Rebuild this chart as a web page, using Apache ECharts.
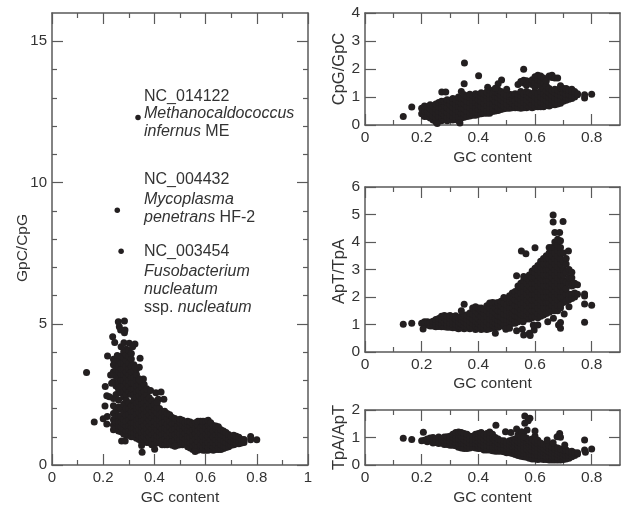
<!DOCTYPE html>
<html><head><meta charset="utf-8">
<style>html,body{margin:0;padding:0;background:#fff}#c{width:622px;height:507px}</style>
<script src="https://cdn.jsdelivr.net/npm/echarts@6/dist/echarts.min.js"></script>
</head><body><div id="c"></div>
<script>
// Each column: [GC content, y values...].
const gpcCpgColumns = [
[.24,1.25,1.42,1.6,1.82,2.1,2.35,2.95,3.3,3.55],
[.25,1.32,1.5,1.7,1.95,2.5,2.8,3.15,3.4,3.62],
[.26,1.2,1.38,1.55,1.75,2.05,2.3,2.68,2.9,3.1,3.3,3.5,3.72],
[.27,1.18,1.35,1.52,1.72,1.98,2.55,2.8,3.0,3.2,3.4,3.6,3.85],
[.28,1.1,1.28,1.45,1.62,1.85,2.15,2.4,2.6,2.8,3.0,3.2,3.4,3.6,3.8,4.0],
[.29,1.05,1.2,1.38,1.55,1.75,2.0,2.3,2.5,2.7,2.9,3.1,3.3,3.5,3.7,3.9,4.1],
[.30,1.05,1.22,1.4,1.6,1.8,2.0,2.2,2.6,2.8,3.0,3.2,3.4,3.6,3.85,4.05],
[.31,1.0,1.15,1.32,1.5,1.7,1.9,2.1,2.5,2.7,2.9,3.1,3.3,3.5,3.75,3.95],
[.32,1.0,1.15,1.32,1.5,1.7,1.9,2.1,2.3,2.5,2.7,2.9,3.1,3.35,3.55],
[.33,.95,1.1,1.25,1.42,1.6,1.8,2.0,2.2,2.4,2.6,2.8,3.0,3.2,3.4],
[.34,.9,1.05,1.25,1.45,1.65,1.85,2.05,2.25,2.45,2.65,2.85,3.05],
[.35,.82,.98,1.15,1.35,1.55,1.75,1.95,2.15,2.35,2.55,2.75,2.95],
[.36,.82,1.0,1.2,1.4,1.6,1.8,2.0,2.2,2.4,2.6,2.85],
[.37,.8,.92,1.1,1.3,1.5,1.7,1.9,2.1,2.3,2.5,2.7],
[.38,.8,.98,1.18,1.38,1.58,1.78,1.98,2.18,2.38],
[.39,.72,.88,1.08,1.28,1.48,1.68,1.88,2.08,2.28],
[.40,.75,.95,1.15,1.35,1.55,1.75,1.95,2.15],
[.41,.78,.9,1.05,1.25,1.45,1.65,1.85,2.05],
[.42,.8,.98,1.18,1.38,1.58,1.78,2.0],
[.43,.72,.88,1.08,1.28,1.48,1.68,1.88],
[.44,.72,.92,1.12,1.32,1.52,1.72,1.9],
[.45,.72,.85,1.05,1.25,1.45,1.65,1.82],
[.46,.75,.95,1.15,1.35,1.55,1.78],
[.47,.7,.85,1.05,1.25,1.45,1.68],
[.48,.68,.88,1.08,1.28,1.48,1.65],
[.49,.7,.8,.98,1.18,1.38,1.58],
[.50,.72,.9,1.1,1.3,1.5,1.62],
[.51,.72,.82,1.0,1.2,1.4,1.58],
[.52,.75,.92,1.12,1.32,1.5],
[.53,.65,.82,1.02,1.22,1.42,1.55],
[.54,.6,.78,.98,1.18,1.38,1.52],
[.55,.55,.68,.85,1.05,1.25,1.45],
[.56,.55,.72,.92,1.12,1.3,1.5],
[.57,.52,.65,.82,1.02,1.22,1.42,1.55],
[.58,.55,.72,.92,1.12,1.32,1.55],
[.59,.52,.62,.82,1.02,1.22,1.42,1.55],
[.60,.52,.7,.9,1.1,1.3,1.55],
[.61,.52,.62,.8,1.0,1.2,1.42,1.58],
[.62,.55,.72,.9,1.1,1.3,1.5],
[.63,.52,.64,.8,1.0,1.2,1.4],
[.64,.55,.72,.9,1.08,1.28,1.38],
[.65,.55,.62,.8,1.0,1.18,1.35],
[.66,.55,.72,.9,1.08,1.25],
[.67,.58,.68,.85,1.05,1.2],
[.68,.62,.8,.98,1.15],
[.69,.65,.75,.92,1.08],
[.70,.7,.85,1.02],
[.71,.72,.82,.95,1.05],
[.72,.75,.9,1.02],
[.73,.75,.85,.98],
[.74,.78,.9],
[.75,.8,.9]
];
const gpcCpgOutliers = [[.135,3.27],[.165,1.52],[.2,1.64],[.216,1.72],[.214,1.45],[.207,2.09],[.214,2.45],[.224,2.42],[.208,2.78],[.233,2.89],[.229,3.19],[.217,3.86],[.237,4.54],[.245,4.34],[.24,3.74],[.255,3.88],[.259,5.07],[.283,5.1],[.263,4.89],[.268,4.78],[.283,4.68],[.285,4.78],[.27,4.19],[.281,4.33],[.302,4.31],[.324,4.28],[.315,4.19],[.344,3.78],[.341,3.46],[.324,3.46],[.357,3.04],[.341,3.01],[.385,2.64],[.406,2.56],[.426,2.58],[.437,2.33],[.415,2.33],[.411,2.21],[.272,.85],[.286,.85],[.352,.45],[.401,.56],[.35,.69],[.776,1.01],[.776,.89],[.8,.89],[.48,.66],[.559,.48]];
const gpcCpgNamedGenomes = [[.336,12.3],[.255,9.02],[.27,7.57]];

const cpgGpcColumns = [
[.20,.4,.6],[.21,.3,.5,.68],[.22,.3,.48,.65],[.23,.25,.4,.58,.72],[.24,.18,.32,.5,.68],[.25,.12,.25,.4,.58,.75],
[.26,.15,.3,.48,.65,.8],[.27,.15,.28,.44,.6,.78,.85],[.28,.2,.35,.52,.7,.85],[.29,.15,.28,.45,.62,.8,.9],
[.30,.2,.36,.54,.72,.88],[.31,.18,.3,.46,.64,.82,.95],[.32,.2,.38,.56,.74,.92],[.33,.15,.3,.48,.66,.84,1.0],
[.34,.25,.42,.6,.78,.95,1.2],[.35,.28,.4,.58,.76,.94,1.08],[.36,.3,.48,.66,.84,1.02],[.37,.32,.44,.62,.8,.98,1.1],
[.38,.35,.52,.7,.88,1.05],[.39,.35,.45,.62,.8,.98,1.12],[.40,.38,.55,.73,.9,1.08],[.41,.4,.5,.66,.84,1.02,1.15],
[.42,.42,.6,.78,.95,1.12],[.43,.42,.52,.7,.88,1.05,1.18],[.44,.42,.6,.78,.95,1.1,1.25],[.45,.48,.6,.78,.96,1.12],
[.46,.5,.68,.85,1.02,1.18],[.47,.52,.62,.8,.98,1.15,1.25],[.48,.55,.72,.9,1.05,1.2],[.49,.58,.68,.84,1.0,1.12],
[.50,.6,.75,.92,1.05],[.51,.6,.7,.86,1.02,1.1],[.52,.62,.78,.95,1.08],[.53,.62,.7,.88,1.05,1.12],
[.54,.62,.78,.95,1.1,1.45],[.55,.6,.72,.88,1.05,1.2,1.55],[.56,.62,.8,.98,1.12,1.5,1.6],[.57,.62,.72,.9,1.08,1.2,1.42,1.58],
[.58,.65,.82,1.0,1.15,1.55],[.59,.62,.74,.92,1.08,1.45,1.62],[.60,.65,.82,1.0,1.18,1.35,1.52,1.72],[.61,.65,.75,.92,1.1,1.45,1.62,1.78],
[.62,.65,.82,1.0,1.2,1.4,1.6,1.75],[.63,.65,.78,.92,1.12,1.3,1.5,1.68],[.64,.7,.88,1.05,1.22,1.4,1.58],[.65,.68,.8,.98,1.15,1.3,1.75],
[.66,.72,.9,1.05,1.22,1.7,1.78],[.67,.72,.82,.98,1.15,1.28,1.68],[.68,.75,.92,1.1,1.25,1.68],[.69,.78,.9,1.05,1.2,1.32,1.4],
[.70,.85,1.0,1.15,1.3],[.71,.88,.98,1.1,1.25,1.3],[.72,.92,1.08,1.25],[.73,.95,1.05,1.2,1.28],[.74,1.0,1.15,1.2],[.75,1.08,1.12]
];
const cpgGpcOutliers = [[.135,.3],[.165,.64],[.351,2.21],[.35,1.47],[.401,1.76],[.433,1.35],[.56,1.99],[.271,1.18],[.285,1.18],[.482,1.61],[.47,1.47],[.5,1.28],[.335,.07],[.255,.05],[.775,1.08],[.775,.96],[.8,1.1],[.46,1.31]];

const aptTpaColumns = [
[.20,1.05],[.21,1.0,1.1],[.22,.98,1.1],[.23,.95,1.08],[.24,.95,1.12],[.25,.92,1.05,1.18],[.26,.93,1.1,1.22],[.27,.92,1.02,1.18,1.3],
[.28,.92,1.08,1.25,1.33],[.29,.9,1.0,1.15,1.3],[.30,.9,1.05,1.22,1.33],[.31,.88,1.0,1.12,1.28],[.32,.88,1.02,1.2,1.32],[.33,.85,.95,1.1,1.25],
[.34,.88,1.02,1.18,1.3],[.35,.85,.95,1.1,1.25,1.35],[.36,.88,1.02,1.18,1.35],[.37,.85,.95,1.1,1.28,1.42],[.38,.88,1.05,1.2,1.38,1.6],
[.39,.82,.95,1.12,1.3,1.5,1.65],[.40,.88,1.05,1.2,1.38,1.6],[.41,.82,.95,1.12,1.3,1.5,1.6],[.42,.85,1.02,1.2,1.4,1.55],[.43,.82,.92,1.1,1.3,1.5,1.68],
[.44,.85,1.0,1.2,1.4,1.6,1.78],[.45,.88,.98,1.12,1.3,1.5,1.7,1.8],[.46,.9,1.05,1.22,1.42,1.6,1.78],[.47,.9,1.0,1.15,1.32,1.5,1.7,1.8],
[.48,.95,1.1,1.28,1.48,1.68,1.85],[.49,.95,1.05,1.2,1.38,1.58,1.78,1.98],[.50,1.0,1.18,1.35,1.52,1.72,1.95],[.51,1.0,1.12,1.28,1.45,1.62,1.82,2.05],
[.52,1.05,1.22,1.4,1.6,1.8,2.0,2.15],[.53,1.05,1.15,1.32,1.5,1.7,1.9,2.1,2.2],[.54,1.1,1.28,1.46,1.65,1.85,2.05,2.25,2.4],[.55,1.2,1.38,1.55,1.75,1.95,2.15,2.35,2.5],
[.56,1.25,1.42,1.6,1.8,2.0,2.2,2.4,2.6,2.75],[.57,1.2,1.32,1.5,1.7,1.9,2.1,2.3,2.5,2.7],[.58,1.2,1.4,1.6,1.8,2.0,2.2,2.4,2.6,2.8],[.59,1.25,1.3,1.5,1.7,1.9,2.1,2.3,2.5,2.7,2.95],
[.60,1.3,1.5,1.7,1.9,2.1,2.3,2.5,2.7,2.9,3.05],[.61,1.25,1.4,1.6,1.8,2.0,2.2,2.4,2.6,2.8,3.0,3.15],
[.62,1.3,1.5,1.7,1.9,2.1,2.3,2.5,2.7,2.9,3.1,3.3],[.63,1.35,1.4,1.6,1.8,2.0,2.2,2.4,2.6,2.8,3.0,3.2,3.4],
[.64,1.4,1.6,1.8,2.0,2.2,2.4,2.6,2.8,3.0,3.2,3.4,3.5],[.65,1.45,1.6,1.8,2.0,2.2,2.4,2.6,2.8,3.0,3.2,3.4,3.6,3.8],
[.66,1.5,1.7,1.9,2.1,2.3,2.5,2.7,2.9,3.1,3.3,3.5,3.7,3.8],[.67,1.5,1.6,1.8,2.0,2.2,2.4,2.6,2.8,3.0,3.2,3.4,3.6,3.8,4.0],
[.68,1.5,1.7,1.9,2.1,2.3,2.5,2.7,2.9,3.1,3.3,3.5,3.7,3.9,4.1],[.69,1.6,1.8,2.0,2.2,2.4,2.6,2.8,3.0,3.2,3.4,3.6,3.8,4.05],
[.70,1.8,2.0,2.2,2.4,2.6,2.8,3.0,3.3,3.6],[.71,1.85,2.1,2.3,2.55,2.9,3.2,3.4],[.72,1.9,2.1,2.5,2.7,3.0],[.73,1.95,2.1,2.4,2.7,2.9],[.74,2.0,2.15,2.45,2.5],[.75,2.1,2.45]
];
const aptTpaOutliers = [[.135,1.01],[.165,1.05],[.205,.84],[.35,1.74],[.34,1.5],[.664,4.98],[.664,4.73],[.699,4.75],[.67,4.35],[.687,4.35],[.552,3.67],[.568,3.57],[.60,3.79],[.718,3.67],[.535,2.77],[.775,1.75],[.775,2.11],[.775,2.04],[.8,1.7],[.775,1.08],[.703,1.38],[.69,1.7],[.72,1.65],[.46,.68],[.497,.83],[.51,.86],[.535,.77],[.555,.83],[.558,1.1],[.56,.62],[.58,.68],[.583,.6],[.597,.8],[.594,.98],[.61,.98],[.645,1.1],[.665,1.23],[.683,.98],[.69,1.07],[.69,.86]];

const tpaAptColumns = [
[.20,.88],[.21,.9],[.22,.85,.95],[.23,.88,.98],[.24,.8,.92,1.0],[.25,.82,.95],[.26,.78,.9,1.02],[.27,.8,.95],[.28,.75,.88,1.02],[.29,.75,.9,1.03],[.30,.72,.85,.98,1.05],
[.31,.72,.88,1.02,1.12],[.32,.7,.82,.95,1.08,1.18],[.33,.65,.8,.95,1.1,1.2],[.34,.62,.78,.9,1.05,1.18],[.35,.6,.78,.92,1.05,1.15],[.36,.6,.72,.85,1.0,1.12],[.37,.62,.78,.92,1.05],[.38,.65,.78,.9,1.05],[.39,.62,.78,.92,1.05,1.12],
[.40,.6,.72,.85,1.0,1.15],[.41,.6,.75,.9,1.05,1.18],[.42,.55,.68,.82,.95,1.1],[.43,.55,.72,.88,1.02,1.15],[.44,.55,.68,.82,.95,1.08,1.2],[.45,.52,.68,.82,.98,1.12],[.46,.5,.62,.75,.88,1.0],[.47,.5,.65,.8,.95],
[.48,.5,.62,.75,.88],[.49,.48,.62,.75,.88],[.50,.45,.58,.7,.82],[.51,.45,.6,.72,.88],[.52,.42,.55,.68,.8,.92],[.53,.38,.52,.68,.82,.95],[.54,.35,.48,.6,.72,.85,1.0,1.1],[.55,.32,.48,.62,.78,.9,1.05],
[.56,.3,.42,.55,.68,.82,.95,1.18],[.57,.28,.42,.58,.72,.85,.98],[.58,.25,.38,.5,.62,.75,.9],[.59,.22,.38,.52,.68,.82,.95],[.60,.22,.35,.48,.6,.72,.85,1.05],[.61,.2,.35,.5,.65,.78,.9],
[.62,.22,.32,.45,.58,.7,.8],[.63,.2,.35,.48,.62,.75],[.64,.2,.3,.42,.55,.68],[.65,.18,.32,.48,.6,.72],[.66,.18,.3,.42,.55,.65],[.67,.18,.32,.45,.58,.65],[.68,.18,.28,.4,.52,.62],[.69,.18,.32,.45,.58],
[.70,.2,.3,.42,.55],[.71,.22,.35,.48,.55],[.72,.25,.35,.48],[.73,.3,.42,.5],[.74,.35,.45],[.75,.4,.45]
];
const tpaAptOutliers = [[.135,.97],[.165,.93],[.206,1.19],[.462,1.45],[.564,1.78],[.582,1.7],[.576,1.61],[.564,1.52],[.496,1.21],[.515,1.18],[.535,1.31],[.552,1.21],[.572,1.27],[.6,1.24],[.56,1.03],[.643,.91],[.664,.81],[.687,1.15],[.678,1.03],[.69,1.01],[.705,.73],[.775,.91],[.775,.55],[.778,.46],[.8,.58]];

const xMajorLeft = [0,.2,.4,.6,.8,1];
const xMinorLeft = [.1,.3,.5,.7,.9];
const xMajorRight = [0,.2,.4,.6,.8];
const xMinorRight = [.1,.3,.5,.7];
const yMajorLeft = [0,5,10,15];
const yMinorLeft = [1,2,3,4,6,7,8,9,11,12,13,14];
const yMajorCpg = [0,1,2,3,4];
const yMajorApt = [0,1,2,3,4,5,6];
const yMajorTpa = [0,1,2];

const TEXT = '#333333', FRAME = '#5a5a5a', DOT = '#231f20', FONT = '"Liberation Sans", Arial, sans-serif';
const panels = [
 {grid:{left:52,top:13,width:256,height:452,outerBoundsMode:'none'}, xMax:1, yMax:16, xM:xMajorLeft, xm:xMinorLeft, yM:yMajorLeft, ym:yMinorLeft, yName:'GpC/CpG', gapY:21, shift:18, gapX:25, tick:15, nameSize:15.5, cols:gpcCpgColumns, out:gpcCpgOutliers, named:gpcCpgNamedGenomes},
 {grid:{left:365,top:13,width:255,height:112,outerBoundsMode:'none'}, xMax:.9, yMax:4, xM:xMajorRight, xm:xMinorRight, yM:yMajorCpg, ym:[], yName:'CpG/GpC', gapY:17, shift:0, gapX:25, tick:15.5, nameSize:16.5, cols:cpgGpcColumns, out:cpgGpcOutliers},
 {grid:{left:365,top:187,width:255,height:165,outerBoundsMode:'none'}, xMax:.9, yMax:6, xM:xMajorRight, xm:xMinorRight, yM:yMajorApt, ym:[], yName:'ApT/TpA', gapY:17, shift:4, gapX:24, tick:15.5, nameSize:16.5, cols:aptTpaColumns, out:aptTpaOutliers},
 {grid:{left:365,top:410,width:255,height:55,outerBoundsMode:'none'}, xMax:.9, yMax:2, xM:xMajorRight, xm:xMinorRight, yM:yMajorTpa, ym:[], yName:'TpA/ApT', gapY:17, shift:0, gapX:25, tick:15.5, nameSize:16.5, cols:tpaAptColumns, out:tpaAptOutliers}
];

function axis(gridIndex, position, max, ticks, len, opts) {
  const a = {
    type:'value', gridIndex, position, min:0, max, scale:false, silent:true, splitLine:{show:false},
    axisLine:{show:!!opts.line, onZero:false, lineStyle:{color:FRAME,width:1.5}},
    axisTick:{show:ticks.length>0, inside:true, length:len, customValues:ticks, lineStyle:{color:FRAME,width:1.2}},
    axisLabel:{show:!!opts.labels, margin:5, color:TEXT, fontSize:opts.tick||15, fontFamily:FONT, customValues:opts.labels?ticks:undefined}
  };
  if (opts.name) {
    a.name = opts.name; a.nameLocation='middle'; a.nameGap=opts.gap; a.nameMoveOverlap=false;
    a.nameTextStyle={color:TEXT,fontSize:opts.size,fontFamily:FONT,padding:[0,opts.shift||0,0,0]};
  }
  return a;
}
const xAxis=[], yAxis=[], series=[], grid=[];
panels.forEach((p,i)=>{
  grid.push(p.grid);
  const xi=xAxis.length, yi=yAxis.length;
  xAxis.push(
    axis(i,'bottom',p.xMax,p.xM,11,{line:true,labels:true,tick:p.tick,name:'GC content',size:15.5,gap:p.gapX}),
    axis(i,'bottom',p.xMax,p.xm,5,{}),
    axis(i,'top',p.xMax,p.xM,11,{line:true}),
    axis(i,'top',p.xMax,p.xm,5,{}));
  yAxis.push(
    axis(i,'left',p.yMax,p.yM,11,{line:true,labels:true,tick:p.tick,name:p.yName,size:p.nameSize,gap:p.gapY,shift:p.shift}),
    axis(i,'left',p.yMax,p.ym,5,{}),
    axis(i,'right',p.yMax,p.yM,11,{line:true}),
    axis(i,'right',p.yMax,p.ym,5,{}));
  const pts=[...p.cols.flatMap(c=>c.slice(1).map(v=>[c[0],v])),...p.out];
  series.push({type:'scatter',xAxisIndex:xi,yAxisIndex:yi,data:pts,symbolSize:7,silent:true,itemStyle:{color:DOT,opacity:1}});
  if (p.named) series.push({type:'scatter',xAxisIndex:xi,yAxisIndex:yi,data:p.named,symbolSize:5.5,silent:true,itemStyle:{color:DOT,opacity:1}});
});

function note(x,y,text){
  return {type:'text',x,y,silent:true,style:{text,fill:TEXT,font:'16px '+FONT,verticalAlign:'middle',
    rich:{i:{fontStyle:'italic',fontSize:16,fontFamily:FONT,fill:TEXT,fontWeight:'normal'},n:{fontSize:16,fontFamily:FONT,fill:TEXT}}}};
}
const notes=[
 [144,97,'{n|NC_014122}'],[144,114,'{i|Methanocaldococcus}'],[144,132,'{i|infernus} {n|ME}'],
 [144,180,'{n|NC_004432}'],[144,200,'{i|Mycoplasma}'],[144,218,'{i|penetrans} {n|HF-2}'],
 [144,252,'{n|NC_003454}'],[144,272,'{i|Fusobacterium}'],[144,290,'{i|nucleatum}'],[144,308,'{n|ssp.} {i|nucleatum}']
];

const chart=echarts.init(document.getElementById('c'),null,{renderer:'canvas'});
chart.setOption({animation:false,backgroundColor:'#fff',grid,xAxis,yAxis,series,graphic:notes.map(n=>note(...n))});
</script></body></html>
